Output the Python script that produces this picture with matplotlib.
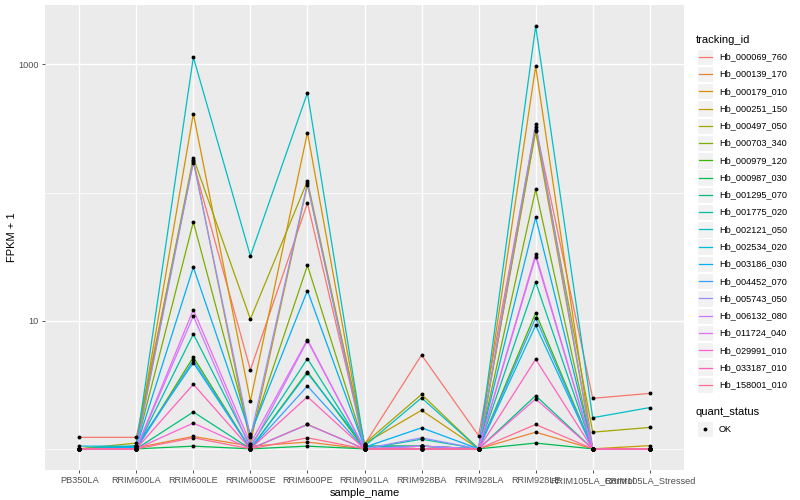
import numpy as np
import matplotlib
matplotlib.use("Agg")
from matplotlib import pyplot as plt
from matplotlib.patches import Rectangle

plt.rcParams['font.family'] = ['Liberation Sans', 'DejaVu Sans']

samples = ["PB350LA", "RRIM600LA", "RRIM600LE", "RRIM600SE", "RRIM600PE",
           "RRIM901LA", "RRIM928BA", "RRIM928LA", "RRIM928LE",
           "RRIM105LA_Control", "RRIM105LA_Stressed"]

tracking_ids = ["Hb_000069_760", "Hb_000139_170", "Hb_000179_010", "Hb_000251_150",
                "Hb_000497_050", "Hb_000703_340", "Hb_000979_120", "Hb_000987_030",
                "Hb_001295_070", "Hb_001775_020", "Hb_002121_050", "Hb_002534_020",
                "Hb_003186_030", "Hb_004452_070", "Hb_005743_050", "Hb_006132_080",
                "Hb_011724_040", "Hb_029991_010", "Hb_033187_010", "Hb_158001_010"]

colors = ["#F8766D", "#EA8331", "#D89000", "#C09B00", "#A3A500", "#7CAE00",
          "#39B600", "#00BB4E", "#00BF7D", "#00C1A3", "#00BFC4", "#00BAE0",
          "#00B0F6", "#35A2FF", "#9590FF", "#C77CFF", "#E76BF3", "#FA62DB",
          "#FF62BC", "#FF6C91"]

# FPKM + 1 per sample (same order as samples)
fpkm = {
    "Hb_000069_760": [1.23, 1.23, 171, 4.13, 83, 1.08, 5.4, 1.27, 326, 2.48, 2.71],
    "Hb_000139_170": [1.0, 1.02, 1.25, 1.05, 1.13, 1.0, 1.05, 1.0, 1.35, 1.0, 1.0],
    "Hb_000179_010": [1.0, 1.05, 413, 2.36, 294, 1.05, 1.05, 1.0, 966, 1.0, 1.0],
    "Hb_000251_150": [1.0, 1.05, 180, 1.1, 115, 1.1, 2.0, 1.0, 300, 1.0, 1.06],
    "Hb_000497_050": [1.0, 1.11, 187, 10.3, 123, 1.1, 2.66, 1.0, 309, 1.35, 1.47],
    "Hb_000703_340": [1.0, 1.05, 59, 1.27, 27, 1.05, 1.05, 1.0, 106, 1.0, 1.0],
    "Hb_000979_120": [1.0, 1.0, 5.2, 1.0, 4.0, 1.0, 1.0, 1.0, 11.5, 1.0, 1.0],
    "Hb_000987_030": [1.0, 1.0, 1.05, 1.0, 1.05, 1.0, 1.0, 1.0, 1.11, 1.0, 1.0],
    "Hb_001295_070": [1.0, 1.0, 1.94, 1.0, 1.55, 1.0, 1.0, 1.0, 2.6, 1.0, 1.0],
    "Hb_001775_020": [1.0, 1.0, 7.87, 1.05, 5.06, 1.0, 1.19, 1.0, 20, 1.0, 1.0],
    "Hb_002121_050": [1.0, 1.05, 1140, 32, 600, 1.05, 2.5, 1.0, 1990, 1.75, 2.1],
    "Hb_002534_020": [1.05, 1.05, 4.7, 1.0, 3.9, 1.05, 1.05, 1.0, 9.2, 1.0, 1.0],
    "Hb_003186_030": [1.0, 1.03, 26.2, 1.3, 17.2, 1.03, 1.46, 1.0, 64, 1.0, 1.0],
    "Hb_004452_070": [1.0, 1.0, 4.9, 1.0, 3.09, 1.0, 1.05, 1.0, 10.5, 1.0, 1.0],
    "Hb_005743_050": [1.0, 1.0, 175, 1.23, 118, 1.0, 1.22, 1.0, 345, 1.0, 1.0],
    "Hb_006132_080": [1.0, 1.0, 10.9, 1.0, 7.0, 1.0, 1.05, 1.0, 31.6, 1.0, 1.0],
    "Hb_011724_040": [1.0, 1.0, 12.2, 1.1, 7.13, 1.0, 1.0, 1.0, 33, 1.0, 1.0],
    "Hb_029991_010": [1.0, 1.0, 1.59, 1.0, 1.55, 1.0, 1.0, 1.0, 2.45, 1.0, 1.0],
    "Hb_033187_010": [1.0, 1.0, 3.19, 1.0, 2.55, 1.0, 1.0, 1.0, 5.0, 1.0, 1.0],
    "Hb_158001_010": [1.0, 1.0, 1.22, 1.0, 1.22, 1.0, 1.0, 1.0, 1.55, 1.0, 1.0],
}

W, H = 800, 500
fig = plt.figure(figsize=(8, 5), dpi=100)
ax = fig.add_axes([45 / W, 30 / H, 639 / W, 465 / H])
ax.set_facecolor("#EBEBEB")

x = np.arange(len(samples))
for tid, col in zip(tracking_ids, colors):
    ax.plot(x, fpkm[tid], color=col, lw=0.9, zorder=2)
for tid in tracking_ids:
    ax.plot(x, fpkm[tid], ls="none", marker="o", ms=2.8, mew=0, color="black", zorder=3)

ax.set_yscale("log")
allv = np.log10(np.concatenate([fpkm[t] for t in tracking_ids]))
lo, hi = allv.min(), allv.max()
pad = 0.05 * (hi - lo)
ax.set_ylim(10 ** (lo - pad), 10 ** (hi + pad))
ax.set_xlim(-0.6, len(samples) - 0.4)

ax.set_yticks([10, 1000])
ax.set_yticklabels(["10", "1000"])
ax.set_yticks([1, 100], minor=True)
ax.yaxis.set_minor_formatter(matplotlib.ticker.NullFormatter())
ax.set_xticks(x)
ax.set_xticklabels(samples)

ax.grid(True, which="major", color="white", lw=1.0, zorder=0)
ax.grid(True, which="minor", axis="y", color="white", lw=0.5, zorder=0)
ax.set_axisbelow(True)
ax.tick_params(which="major", length=2.5, width=0.6, color="#333333",
               labelsize=6.6, labelcolor="#4D4D4D", pad=2)
ax.tick_params(which="minor", length=0)
for s in ax.spines.values():
    s.set_visible(False)

ax.set_xlabel("sample_name", fontsize=8, labelpad=2)
ax.set_ylabel("FPKM + 1", fontsize=8, labelpad=1)

# ---- legend (ggplot style) ----
lg = fig.add_axes([0, 0, 1, 1], facecolor="none")
lg.set_xlim(0, W)
lg.set_ylim(H, 0)
lg.axis("off")
lg.text(696, 40, "tracking_id", fontsize=8, va="center", ha="left")
for i, (tid, col) in enumerate(zip(tracking_ids, colors)):
    yc = 56.7 + i * 17.27
    lg.add_patch(Rectangle((697, yc - 8.2), 16.4, 16.4, fc="#F2F2F2", ec="white", lw=0.8))
    lg.plot([698.5, 711.5], [yc, yc], color=col, lw=0.9)
    lg.text(719, yc, tid, fontsize=6.6, va="center", ha="left")
lg.text(696, 412, "quant_status", fontsize=8, va="center", ha="left")
lg.add_patch(Rectangle((697, 420.8), 16.4, 16.4, fc="#F2F2F2", ec="white", lw=0.8))
lg.plot([705], [429], marker="o", ms=2.8, mew=0, color="black")
lg.text(719, 429, "OK", fontsize=6.6, va="center", ha="left")

fig.savefig("out.png", dpi=100)
